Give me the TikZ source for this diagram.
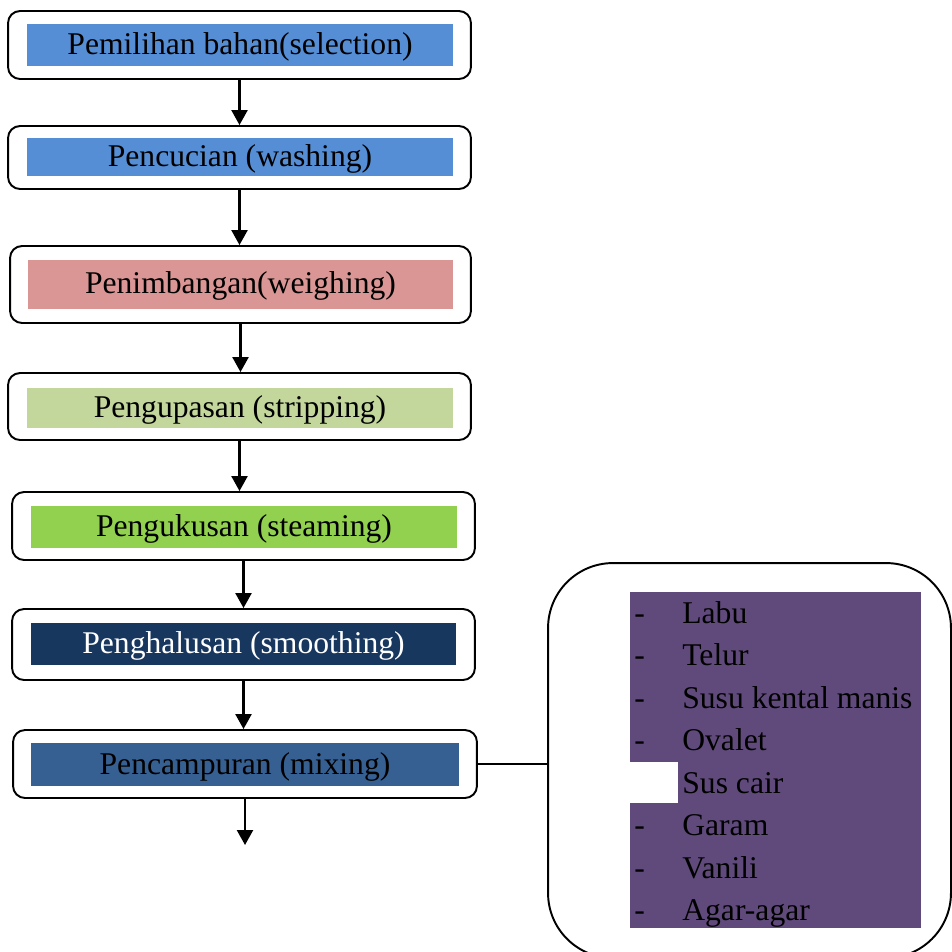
\documentclass[tikz,border=0pt]{standalone}
\usepackage{fontspec}
\setmainfont{Liberation Serif}
\usetikzlibrary{arrows.meta}

\definecolor{selblue}{HTML}{558ED5}
\definecolor{weighpink}{HTML}{D99694}
\definecolor{stripgreen}{HTML}{C3D69B}
\definecolor{steamgreen}{HTML}{92D050}
\definecolor{smoothnavy}{HTML}{17375E}
\definecolor{mixblue}{HTML}{376092}
\definecolor{ingrpurple}{HTML}{604A7B}

\newcommand{\ingrdash}{\makebox[0.96cm][l]{-}}

\begin{document}
\begin{tikzpicture}[x=0.02cm, y=-0.02cm,
  every node/.style={font=\fontsize{18}{21}\selectfont},
  outer/.style={draw, line width=1.1pt, rounded corners=0.24cm, minimum width=9.26cm, inner sep=0pt},
  band/.style={minimum width=8.52cm, inner sep=0pt, text height=13pt, text depth=2.2pt},
  flow/.style={-{Triangle[width=0.32cm,length=0.3cm]}, line width=1.3pt},
  ingritem/.style={anchor=west, inner sep=0pt, text height=13pt, text depth=2.2pt}]
  \useasboundingbox (0,0) rectangle (952,951);

  \node[outer, minimum height=1.36cm] (o1) at (239.5,45) {};
  \node[band, fill=selblue, minimum height=0.84cm] (sel) at (240,45) {Pemilihan bahan(selection)};
  \node[outer, minimum height=1.26cm] (o2) at (239.5,157.5) {};
  \node[band, fill=selblue, minimum height=0.76cm] (wash) at (240,157) {Pencucian (washing)};
  \node[outer, minimum width=9.22cm, minimum height=1.54cm] (o3) at (240.5,284.5) {};
  \node[band, fill=weighpink, minimum width=8.5cm, minimum height=0.98cm] (weigh) at (240.5,284.5) {Penimbangan(weighing)};
  \node[outer, minimum height=1.34cm] (o4) at (239.5,406.5) {};
  \node[band, fill=stripgreen, minimum height=0.8cm] (strip) at (240,408) {Pengupasan (stripping)};
  \node[outer, minimum height=1.36cm] (o5) at (243.5,526) {};
  \node[band, fill=steamgreen, minimum height=0.84cm] (steam) at (244,527) {Pengukusan (steaming)};
  \node[outer, minimum height=1.42cm] (o6) at (243.5,644.5) {};
  \node[band, fill=smoothnavy, text=white, minimum width=8.5cm, minimum height=0.84cm] (smooth) at (243.5,644) {Penghalusan (smoothing)};
  \node[outer, minimum width=9.28cm, minimum height=1.36cm] (o7) at (245,764) {};
  \node[band, fill=mixblue, minimum width=8.56cm, minimum height=0.86cm] (mix) at (245,764.5) {Pencampuran (mixing)};
  \coordinate (out) at (247,845);

  \draw[flow] (o1.south) -- (o1.south |- o2.north);
  \draw[flow] (o2.south) -- (o2.south |- o3.north);
  \draw[flow] (o3.south) -- (o3.south |- o4.north);
  \draw[flow] (o4.south) -- (o4.south |- o5.north);
  \draw[flow] (o5.south) -- (o5.south |- o6.north);
  \draw[flow] (o6.south) -- (o6.south |- o7.north);
  \draw[flow] (o7.south) -- (o7.south |- out);

  % ingredients
  \node[draw, line width=1.1pt, rounded corners=1.3cm, minimum width=8.06cm, minimum height=7.9cm, inner sep=0pt] (ingr) at (749.5,760.5) {};
  \node[fill=ingrpurple, minimum width=5.82cm, minimum height=6.72cm, inner sep=0pt] (panel) at (775.5,760) {};
  \node[fill=white, minimum width=0.96cm, minimum height=0.82cm, inner sep=0pt] (notch) at (654,782.5) {};
  \draw[line width=1.1pt] (o7.east) -- (o7.east -| ingr.west);

  \node[ingritem] (l1) at (634,613.5) {\ingrdash Labu};
  \node[ingritem] (l2) at (634,656) {\ingrdash Telur};
  \node[ingritem] (l3) at (634,698.5) {\ingrdash Susu kental manis};
  \node[ingritem] (l4) at (634,741) {\ingrdash Ovalet};
  \node[ingritem] (l5) at (682,783.5) {Sus cair};
  \node[ingritem] (l6) at (634,826) {\ingrdash Garam};
  \node[ingritem] (l7) at (634,868.5) {\ingrdash Vanili};
  \node[ingritem] (l8) at (634,911) {\ingrdash Agar-agar};
\end{tikzpicture}
\end{document}
